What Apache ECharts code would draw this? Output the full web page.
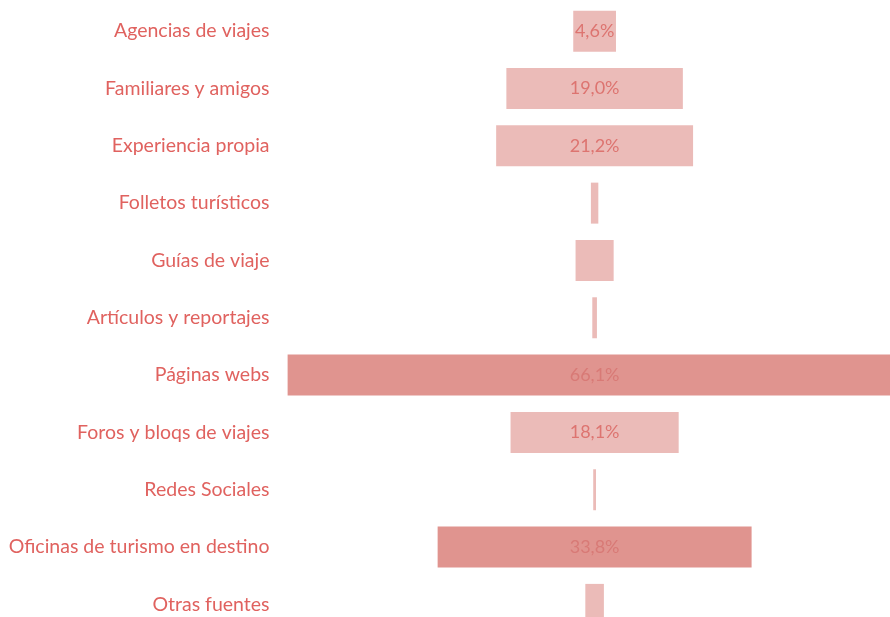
<!DOCTYPE html>
<html>
<head>
<meta charset="utf-8">
<style>
  html, body { margin: 0; padding: 0; background: #fff; }
  #main { width: 890px; height: 617px; }
</style>
<script src="https://cdn.jsdelivr.net/npm/echarts@6/dist/echarts.min.js"></script>
</head>
<body>
<div id="main"></div>
<script>
const categories = [
    "Agencias de viajes",
    "Familiares y amigos",
    "Experiencia propia",
    "Folletos turísticos",
    "Guías de viaje",
    "Artículos y reportajes",
    "Páginas webs",
    "Foros y bloqs de viajes",
    "Redes Sociales",
    "Oficinas de turismo en destino",
    "Otras fuentes"
];
const values = [4.6, 19.0, 21.2, 0.8, 4.1, 0.5, 66.1, 18.1, 0.3, 33.8, 2.0];
// only these bars carry a printed value in the source
const labelled = ["Agencias de viajes", "Familiares y amigos", "Experiencia propia",
    "Páginas webs", "Foros y bloqs de viajes", "Oficinas de turismo en destino"];
const strong = ["Páginas webs", "Oficinas de turismo en destino"];

const chart = echarts.init(document.getElementById("main"));

const fmt = (v) => v.toFixed(1).replace(".", ",") + "%";

const option = {
    animation: false,
    // the source image is cropped: right and bottom of the plot fall off the page
    grid: { left: 269.5, right: 0, top: 2.5, bottom: 0, containLabel: false },
    xAxis: {
        type: "value",
        min: -35,
        max: 31.8,
        show: false,
    },
    yAxis: {
        type: "value",
        inverse: true,
        min: -0.5,
        max: 10.22,
        axisLine: { show: false },
        axisTick: { show: false },
        splitLine: { show: false },
        axisLabel: {
            customValues: categories.map((c, i) => i),
            formatter: (v) => categories[v],
            margin: 0,
            color: "#e0625f",
            fontFamily: "Lato",
            fontSize: 19.5,
        },
    },
    series: [{
        type: "custom",
        clip: false,
        data: values.map((v, i) => [i, v]),
        encode: { y: 0, x: 1 },
        renderItem: (params, api) => {
            const i = api.value(0);
            const v = api.value(1);
            const name = categories[i];
            const a = api.coord([-v / 2, i]);
            const b = api.coord([v / 2, i]);
            const h = api.size([0, 1])[1] * 0.715;
            const isStrong = strong.includes(name);
            return {
                type: "rect",
                shape: { x: a[0], y: a[1] - h / 2, width: b[0] - a[0], height: h },
                style: { fill: isStrong ? "#e0948f" : "#ebbbb8" },
                textContent: labelled.includes(name) ? {
                    style: {
                        text: fmt(v),
                        fill: isStrong ? "#d87a76" : "#dd7470",
                        font: "18px Lato",
                    },
                } : undefined,
                textConfig: { position: "inside" },
            };
        },
    }],
};

chart.setOption(option);
</script>
</body>
</html>
